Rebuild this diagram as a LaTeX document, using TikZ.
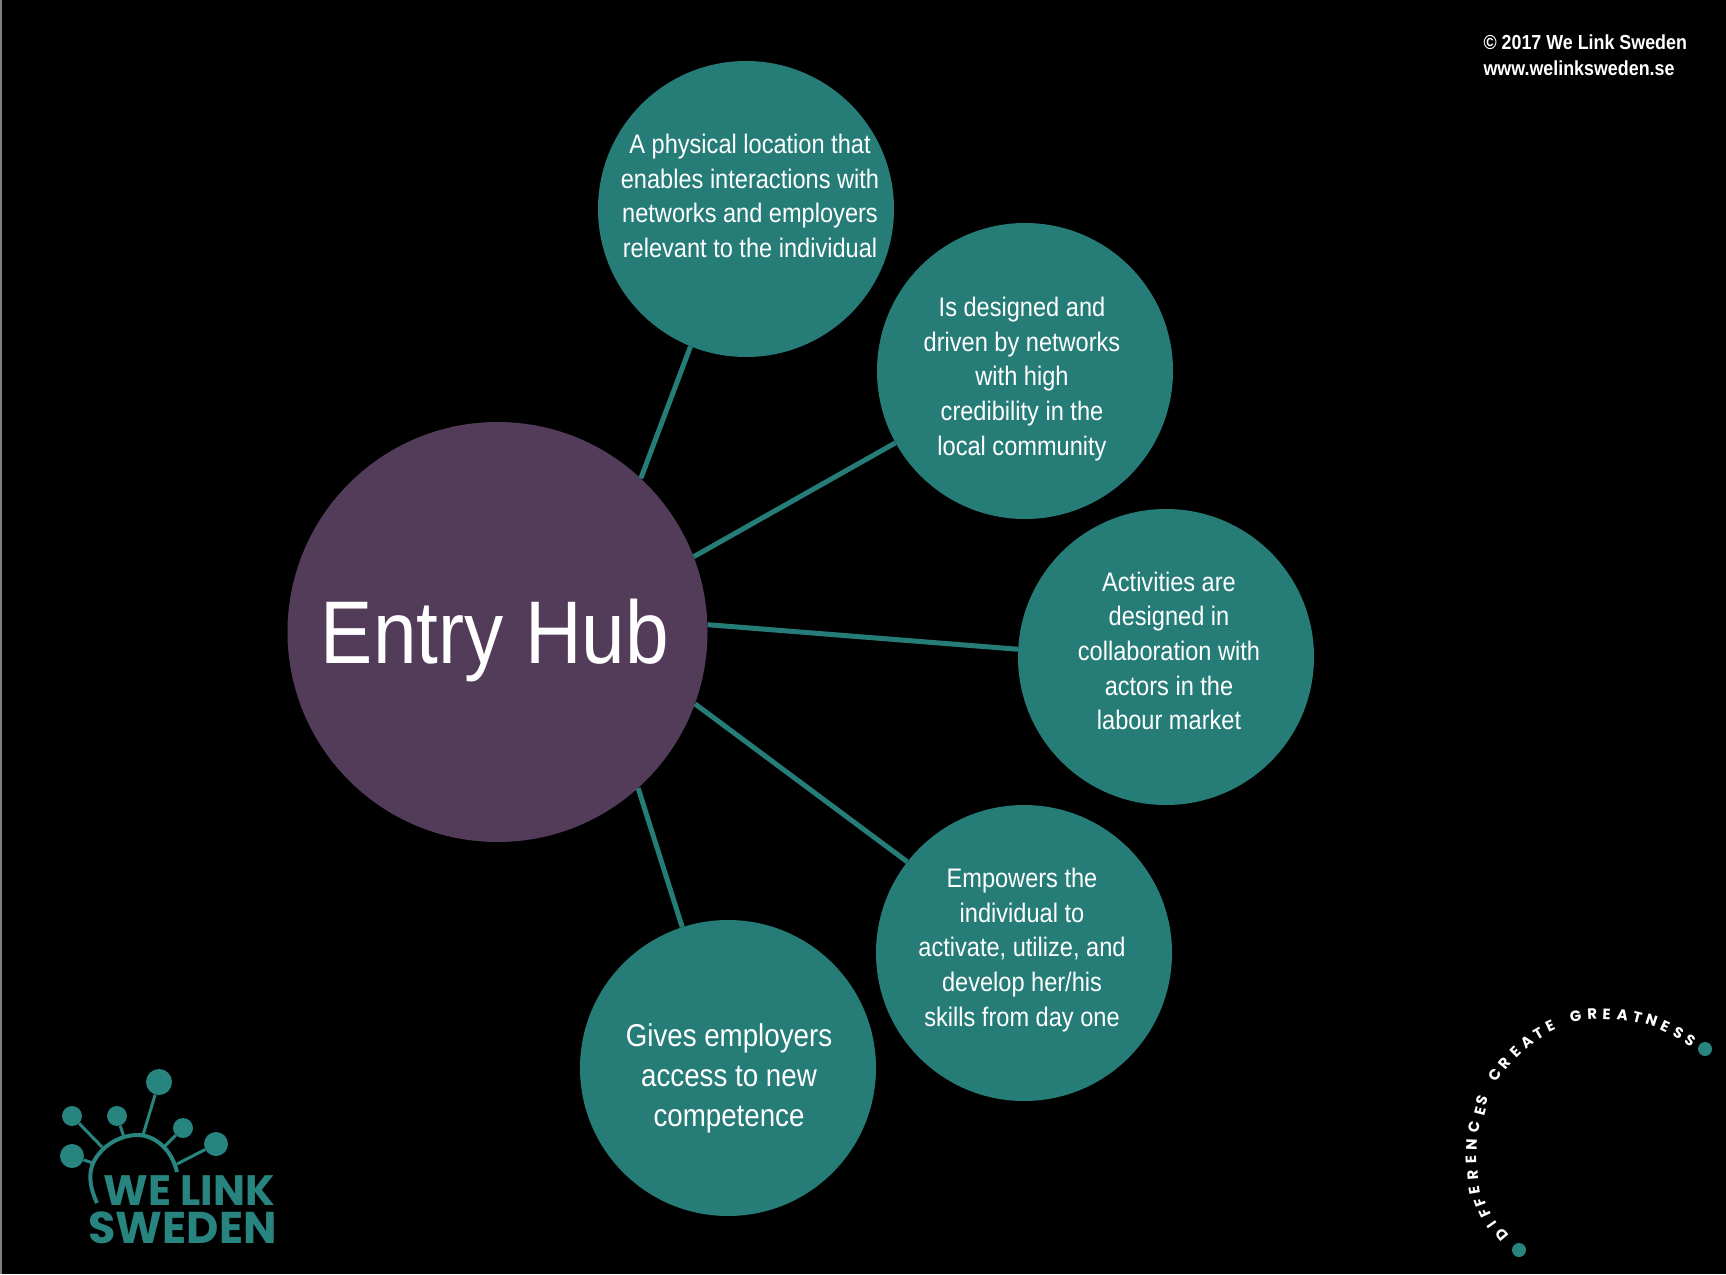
\documentclass[tikz,border=0pt]{standalone}
\usepackage{fontspec}
\setmainfont[FakeStretch=0.88]{Liberation Sans}
\newfontfamily\logofont{Poppins}
\definecolor{hubcolor}{RGB}{83,60,90}
\definecolor{tealcolor}{RGB}{38,125,120}
\definecolor{logocolor}{RGB}{40,132,127}
\tikzset{
  hubnode/.style={circle, fill=hubcolor, inner sep=0pt, minimum size=420pt},
  topicnode/.style={circle, fill=tealcolor, inner sep=0pt, minimum size=296pt},
  topictext/.style={text=white, align=center, font=\fontsize{26.8}{34.7}\selectfont},
  spoke/.style={tealcolor, line width=5pt},
  logodot/.style={circle, fill=logocolor, inner sep=0pt},
  logotext/.style={text=logocolor, anchor=base west, font=\logofont\bfseries\fontsize{42.5}{43}\selectfont},
  arcletter/.style={text=white, inner sep=0pt, font=\logofont\bfseries\fontsize{15}{15}\selectfont}
}
\begin{document}
\begin{tikzpicture}[x=1pt, y=-1pt]
    % Background
    \fill[black] (0,0) rectangle (1726,1274);
    \fill[gray] (0,0) rectangle (2,1274);
    % Circles
    \node[hubnode] (hub) at (497.5,632) {};
    \node[topicnode] (c1) at (746,209) {};
    \node[topicnode] (c2) at (1025,371) {};
    \node[topicnode] (c3) at (1166,657) {};
    \node[topicnode] (c4) at (1024,953) {};
    \node[topicnode] (c5) at (728,1068) {};
    % Connectors
    \draw[spoke] (hub.47.5) -- (c1.248);
    \draw[spoke] (hub.21) -- (c2.209.6);
    \draw[spoke] (hub.2) -- (c3.177);
    \draw[spoke] (hub.-20) -- (c4.142.8);
    \draw[spoke] (hub.-48) -- (c5.108);
    % Labels
    \node[text=white, font=\fontsize{89}{89}\selectfont] (hubtext) at (495,640) {Entry Hub};
    \node[topictext] (c1text) at (750,196) {A physical location that\\enables interactions with\\networks and employers\\relevant to the individual};
    \node[topictext] (c2text) at (1022,379) {Is designed and\\driven by networks\\with high\\credibility in the\\local community};
    \node[topictext] (c3text) at (1169,651) {Activities are\\designed in\\collaboration with\\actors in the\\labour market};
    \node[topictext] (c4text) at (1022,950) {Empowers the\\individual to\\activate, utilize, and\\develop her/his\\skills from day one};
    \node[topictext, font=\fontsize{31.5}{40}\selectfont] (c5text) at (729,1078) {Gives employers\\access to new\\competence};
    % Copyright
    \node[text=white, anchor=west, align=left, font=\bfseries\fontsize{20.3}{26}\selectfont] (copyright) at (1480,55) {© 2017 We Link Sweden\\www.welinksweden.se};
    % Logo
    \foreach \name/\x/\y/\d/\ex/\ey in {a/159/1082/26/143/1135, b/72/1116/20/102/1147, d/117/1116/20/124/1137, e/183/1128/20/165/1146, f/72/1156/24/93/1163, g/216/1144/24/177/1164}{
      \node[logodot, minimum size=\d pt] (dot\name) at (\x,\y) {};
      \coordinate (end\name) at (\ex,\ey);
      \draw[logocolor, line width=3pt] (dot\name) -- (end\name);
    }
    \draw[logocolor, line width=4pt] (97,1203) .. controls (90,1188) and (86,1170) .. (98,1155) .. controls (108,1142) and (122,1136) .. (135,1135) .. controls (155,1134) and (172,1150) .. (177,1172);
    \node[logotext] (logoa) at (100,1205) {WE LINK};
    \node[logotext, font=\logofont\bfseries\fontsize{44.5}{45}\selectfont] (logob) at (85,1243) {SWEDEN};
    % Arc text
    \begin{scope}[shift={(1430,1000)}, x=0.3333pt, y=-0.3333pt]
      \foreach \ch/\x/\y/\a [count=\i] in {D/215/705/130, I/185/675/125, F/165/640/115, F/150/607/110, E/135/570/100, R/128/525/95, E/123/480/92, N/125/435/88, C/132/380/80, E/150/335/75, S/155/300/70, C/195/225/58, R/225/190/50, E/257/155/45, A/290/125/38, T/325/100/30, E/360/78/25, G/437/50/10, R/487/42/3, E/530/42/-2, A/578/45/-8, T/622/52/-14, N/665/62/-18, E/705/80/-25, S/745/100/-28, S/780/122/-32}
        \node[arcletter, rotate=\a] (letter\i) at (\x,\y) {\ch};
    \end{scope}
    \node[logodot, minimum size=14pt] (arcdota) at (1705,1049) {};
    \node[logodot, minimum size=14pt] (arcdotb) at (1519,1250) {};
\end{tikzpicture}
\end{document}
